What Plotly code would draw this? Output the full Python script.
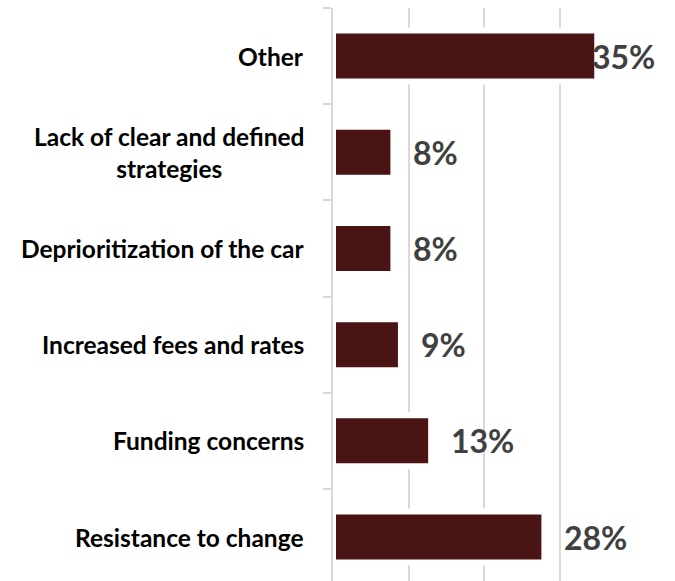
import plotly.graph_objects as go

# Reasons cited, listed bottom to top
categories = [
    "Resistance to change",
    "Funding concerns",
    "Increased fees and rates",
    "Deprioritization of the car",
    "Lack of clear and defined<br>strategies",
    "Other",
]
values = [28, 13, 9, 8, 8, 35]
value_labels = ["28%", "13%", "9%", "8%", "8%", "35%"]

X_MAX = 40
BAR_COLOR = "#4a1314"
GRID_COLOR = "#d9d9d9"
LABEL_FONT = "Lato, 'Open Sans', sans-serif"

fig = go.Figure(
    go.Bar(
        y=categories,
        x=values,
        orientation="h",
        marker=dict(color=BAR_COLOR, line=dict(color="white", width=6)),
        hoverinfo="skip",
    )
)

annotations = []
# Category names, centred line by line, to the left of the axis
for cat in categories:
    annotations.append(
        dict(
            x=0, xref="paper", y=cat, yref="y",
            text=cat, showarrow=False,
            xanchor="right", yanchor="middle", xshift=-27,
            align="center",
            font=dict(family=LABEL_FONT, size=24.5, color="#000000", weight="bold"),
        )
    )

# Value labels just past the end of each bar; a label that would run past
# the chart edge is pulled back inside it
for cat, v, lab in zip(categories, values, value_labels):
    fits = v <= X_MAX - 9
    annotations.append(
        dict(
            x=v if fits else X_MAX, xref="x", y=cat, yref="y",
            text=lab, showarrow=False,
            xanchor="left" if fits else "right",
            xshift=18 if fits else 22,
            yanchor="middle",
            font=dict(family=LABEL_FONT, size=32, color="#404040", weight="bold"),
        )
    )

fig.update_layout(
    width=675,
    height=581,
    margin=dict(l=333, r=40, t=8, b=0),
    paper_bgcolor="white",
    plot_bgcolor="white",
    showlegend=False,
    bargap=0.47,
    annotations=annotations,
    xaxis=dict(
        range=[0, X_MAX],
        dtick=10,
        showgrid=True,
        gridcolor=GRID_COLOR,
        gridwidth=2,
        zeroline=False,
        showline=False,
        showticklabels=False,
        fixedrange=True,
    ),
    yaxis=dict(
        type="category",
        categoryorder="array",
        categoryarray=categories,
        range=[-0.457, 5.5],
        showgrid=False,
        showline=True,
        linecolor=GRID_COLOR,
        linewidth=2,
        ticks="outside",
        tickson="boundaries",
        ticklen=8,
        tickwidth=2,
        tickcolor=GRID_COLOR,
        showticklabels=False,
        fixedrange=True,
    ),
)

fig.write_html("out.html")
